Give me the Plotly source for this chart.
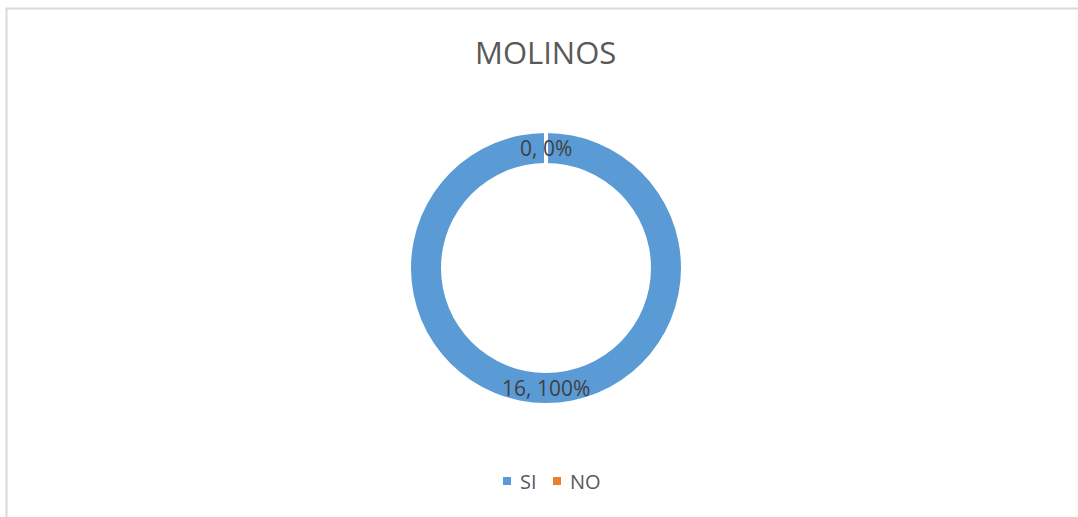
import math
import plotly.graph_objects as go

# ---- data ----
categories = ["SI", "NO"]
values = [16, 0]
colors = ["#5B9BD5", "#ED7D31"]
title_text = "MOLINOS"

# ---- layout constants (pixels) ----
W, H = 1078, 517
CX, CY = 546, 268          # donut centre
R_OUT, R_IN = 135, 105     # radii
FONT = "Open Sans"


def px(x):
    return x / W


def py(y):
    return 1 - y / H


fig = go.Figure()
fig.add_trace(go.Pie(
    labels=categories,
    values=values,
    hole=R_IN / R_OUT,
    sort=False,
    direction="clockwise",
    rotation=0,
    marker=dict(colors=colors, line=dict(width=0)),
    textinfo="none",
    hoverinfo="label+value+percent",
    showlegend=False,
    domain=dict(x=[px(CX - R_OUT), px(CX + R_OUT)],
                y=[py(CY + R_OUT), py(CY - R_OUT)]),
))

shapes = []
annotations = []

# border lines (top and left)
shapes.append(dict(type="line", xref="paper", yref="paper",
                   x0=px(6), x1=1, y0=py(8.5), y1=py(8.5),
                   line=dict(color="#D9D9D9", width=2)))
shapes.append(dict(type="line", xref="paper", yref="paper",
                   x0=px(6.5), x1=px(6.5), y0=py(8), y1=0,
                   line=dict(color="#D9D9D9", width=2)))

# slice separators and data labels from values
total = sum(values)
cum = 0
for cat, v in zip(categories, values):
    start = cum / total
    cum += v
    ang = 2 * math.pi * start
    shapes.append(dict(type="line", xref="paper", yref="paper",
                       x0=px(CX + R_IN * math.sin(ang)), y0=py(CY - R_IN * math.cos(ang)),
                       x1=px(CX + (R_OUT + 1) * math.sin(ang)), y1=py(CY - (R_OUT + 1) * math.cos(ang)),
                       line=dict(color="white", width=4)))
    mid = (start + cum / total) / 2
    a = 2 * math.pi * mid
    rm = (R_IN + R_OUT) / 2
    pct = round(100 * v / total)
    annotations.append(dict(
        xref="paper", yref="paper",
        x=px(CX + rm * math.sin(a)), y=py(CY - rm * math.cos(a)),
        text=f"{v}, {pct}%", showarrow=False,
        xanchor="center", yanchor="middle",
        font=dict(family=FONT, size=21, color="#404040")))

# title
annotations.append(dict(xref="paper", yref="paper", x=px(546), y=py(52),
                        text=title_text, showarrow=False,
                        xanchor="center", yanchor="middle",
                        font=dict(family=FONT, size=31, color="#595959")))

# custom legend
leg_y = 481
leg_x = 503
char_w = {"S": 0.55, "I": 0.30, "N": 0.80, "O": 0.78}
for cat, col in zip(categories, colors):
    shapes.append(dict(type="rect", xref="paper", yref="paper",
                       x0=px(leg_x), x1=px(leg_x + 8),
                       y0=py(leg_y + 4), y1=py(leg_y - 4),
                       fillcolor=col, line=dict(width=0)))
    annotations.append(dict(xref="paper", yref="paper",
                            x=px(leg_x + 15), y=py(leg_y),
                            text=cat, showarrow=False,
                            xanchor="left", yanchor="middle",
                            font=dict(family=FONT, size=20, color="#595959")))
    tw = sum(char_w.get(c, 0.6) for c in cat) * 20
    leg_x += 15 + tw + 18

fig.update_layout(
    width=W, height=H,
    margin=dict(l=0, r=0, t=0, b=0),
    paper_bgcolor="white",
    plot_bgcolor="white",
    shapes=shapes,
    annotations=annotations,
    showlegend=False,
)

fig.write_html("out.html",
               config={"displayModeBar": False},
               post_script="document.body.style.margin='0';document.body.style.overflow='hidden';")
